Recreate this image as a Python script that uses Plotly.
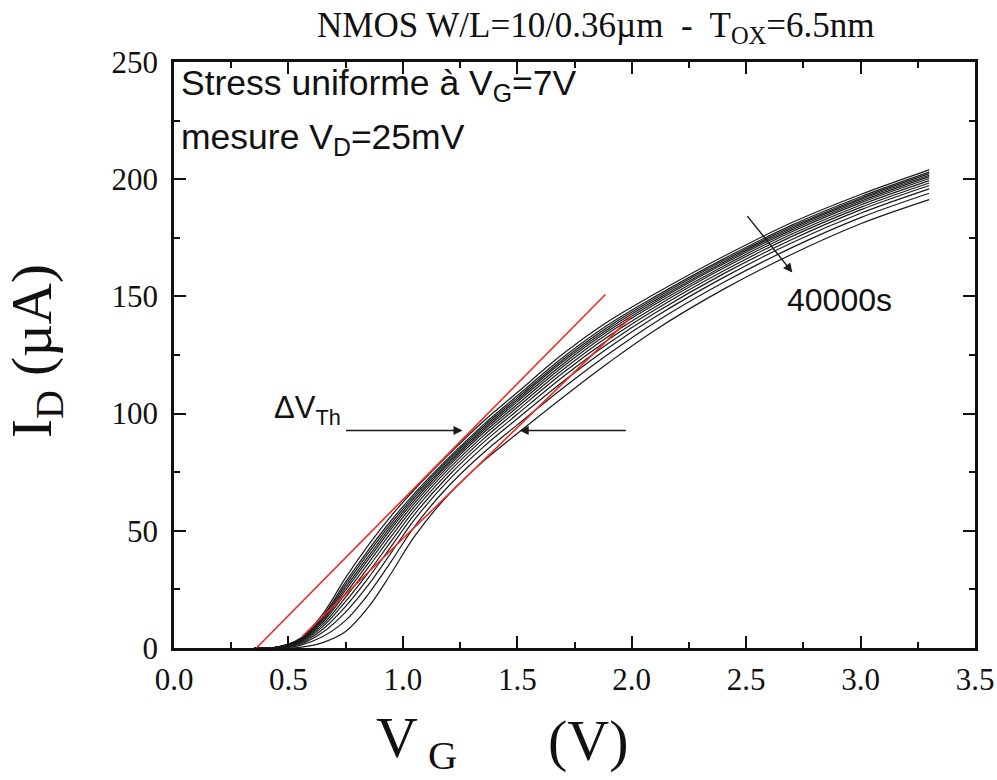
import plotly.graph_objects as go

# ---------------- data ----------------
vg = [0.35, 0.45, 0.55, 0.65, 0.75, 0.85, 0.95, 1.05, 1.2, 1.35, 1.5, 1.7, 1.9, 2.1, 2.4, 2.7, 3.0, 3.3]

id_curves = [
    [0, 0.40, 4.0, 14.5, 30.0, 44.0, 56.5, 67.5, 82.5, 96.5, 109.0, 125.5, 139.5, 151.0, 167.0, 181.5, 193.5, 204.0],
    [0, 0.37, 3.7, 13.5, 28.2, 41.9, 54.5, 65.9, 81.1, 95.1, 107.6, 124.0, 138.1, 149.8, 165.9, 180.4, 192.5, 203.0],
    [0, 0.35, 3.5, 12.9, 27.0, 40.6, 53.3, 64.9, 80.3, 94.3, 106.7, 123.1, 137.2, 149.0, 165.2, 179.7, 191.9, 202.4],
    [0, 0.34, 3.3, 12.3, 25.9, 39.2, 52.1, 63.9, 79.4, 93.4, 105.9, 122.2, 136.3, 148.2, 164.5, 179.1, 191.3, 201.7],
    [0, 0.32, 3.2, 11.7, 24.7, 37.9, 50.9, 62.9, 78.6, 92.6, 105.0, 121.2, 135.4, 147.4, 163.8, 178.4, 190.6, 201.1],
    [0, 0.30, 2.9, 11.0, 23.3, 36.3, 49.4, 61.7, 77.6, 91.6, 103.9, 120.1, 134.4, 146.5, 162.9, 177.6, 189.9, 200.3],
    [0, 0.27, 2.7, 10.1, 21.7, 34.5, 47.7, 60.3, 76.4, 90.4, 102.7, 118.8, 133.1, 145.4, 162.0, 176.6, 189.0, 199.4],
    [0, 0.25, 2.4, 9.1, 19.9, 32.3, 45.7, 58.7, 75.0, 89.0, 101.3, 117.4, 131.7, 144.2, 160.8, 175.6, 188.0, 198.4],
    [0, 0.21, 2.0, 8.0, 17.8, 30.0, 43.5, 56.9, 73.5, 87.5, 99.7, 115.7, 130.1, 142.8, 159.6, 174.3, 186.9, 197.3],
    [0, 0.18, 1.6, 6.7, 15.3, 27.0, 40.8, 54.7, 71.6, 85.6, 97.8, 113.7, 128.2, 141.1, 158.0, 172.9, 185.5, 195.9],
    [0, 0.12, 1.1, 4.9, 11.8, 23.1, 37.1, 51.7, 69.1, 83.1, 95.2, 110.9, 125.5, 138.8, 155.9, 170.8, 183.6, 194.0],
    [0, 0.05, 0.3, 2.3, 7.0, 17.5, 32.0, 47.5, 65.5, 79.5, 91.5, 107.0, 121.8, 135.5, 153.0, 168.0, 181.0, 191.3],
]

# red tangent lines (end points)
tangent_fresh_v = [0.36, 1.885]
tangent_fresh_i = [0.0, 150.8]
tangent_stress_v = [0.56, 2.0]
tangent_stress_i = [4.9, 141.5]

x_ticks = [0.0, 0.5, 1.0, 1.5, 2.0, 2.5, 3.0, 3.5]
x_tick_labels = ["0.0", "0.5", "1.0", "1.5", "2.0", "2.5", "3.0", "3.5"]
y_ticks = [0, 50, 100, 150, 200, 250]
y_tick_labels = ["0", "50", "100", "150", "200", "250"]

# ---------------- figure ----------------
W, H = 997, 780
ML, MR, MT, MB = 174, 22, 62, 132

fig = go.Figure()
for cur in id_curves:
    fig.add_trace(go.Scatter(x=vg, y=cur, mode="lines",
                             line=dict(color="#1a1a1a", width=1.2, shape="spline", smoothing=1.0),
                             showlegend=False, hoverinfo="skip"))

fig.add_trace(go.Scatter(x=tangent_fresh_v, y=tangent_fresh_i, mode="lines",
                         line=dict(color="#ee2a24", width=1.6), showlegend=False))
fig.add_trace(go.Scatter(x=tangent_stress_v, y=tangent_stress_i, mode="lines",
                         line=dict(color="#ee2a24", width=1.6), showlegend=False))

def px(xp):
    return (xp - ML) / (W - ML - MR)

def py(yp):
    return (H - MB - yp) / (H - MT - MB)

serif = "Liberation Serif, Times New Roman, serif"
sans = "Liberation Sans, Arial, sans-serif"

ann = []
# top title
ann.append(dict(xref="paper", yref="paper", x=px(596), y=py(27), xanchor="center", yanchor="middle",
                text="NMOS W/L=10/0.36µm  -  T<sub>OX</sub>=6.5nm", showarrow=False,
                font=dict(family=serif, size=35, color="#111")))
# axis titles
ann.append(dict(xref="paper", yref="paper", x=px(374), y=py(741), xanchor="left", yanchor="middle",
                text="V<sub>&nbsp;G</sub>", showarrow=False,
                font=dict(family=serif, size=58, color="#111")))
ann.append(dict(xref="paper", yref="paper", x=px(631), y=py(740), xanchor="right", yanchor="middle",
                text="(V)", showarrow=False,
                font=dict(family=serif, size=58, color="#111")))
ann.append(dict(xref="paper", yref="paper", x=px(36), y=py(351), xanchor="center", yanchor="middle",
                text="I<sub>D</sub> (µA)", showarrow=False, textangle=-90,
                font=dict(family=serif, size=57, color="#111")))
# in-plot text
ann.append(dict(xref="paper", yref="paper", x=px(179), y=py(85), xanchor="left", yanchor="middle",
                text="Stress uniforme à V<sub>G</sub>=7V", showarrow=False,
                font=dict(family=sans, size=35.5, color="#111")))
ann.append(dict(xref="paper", yref="paper", x=px(179), y=py(139), xanchor="left", yanchor="middle",
                text="mesure V<sub>D</sub>=25mV", showarrow=False,
                font=dict(family=sans, size=35.5, color="#111")))
ann.append(dict(xref="paper", yref="paper", x=px(272), y=py(410), xanchor="left", yanchor="middle",
                text="ΔV<sub>Th</sub>", showarrow=False,
                font=dict(family=sans, size=31, color="#111")))
ann.append(dict(xref="paper", yref="paper", x=px(839), y=py(300), xanchor="center", yanchor="middle",
                text="40000s", showarrow=False,
                font=dict(family=sans, size=32, color="#111")))
# arrows (data coordinates)
arrow_style = dict(showarrow=True, arrowhead=2, arrowsize=1.3, arrowwidth=1.4, arrowcolor="#1a1a1a",
                   xref="x", yref="y", axref="x", ayref="y", text="")
ann.append(dict(x=1.261, y=92.8, ax=0.745, ay=92.8, **arrow_style))
ann.append(dict(x=1.51, y=92.8, ax=1.981, ay=92.8, **arrow_style))
ann.append(dict(x=2.702, y=160.2, ax=2.5, ay=184.9, **arrow_style))

axis_common = dict(showline=True, linecolor="#111", linewidth=2.5, mirror="ticks",
                   ticks="inside", ticklen=12, tickwidth=2, tickcolor="#111",
                   showgrid=False, zeroline=False,
                   tickfont=dict(family=serif, size=31, color="#111"))

fig.update_layout(
    width=W, height=H,
    margin=dict(l=ML, r=MR, t=MT, b=MB, autoexpand=False),
    paper_bgcolor="white", plot_bgcolor="white",
    annotations=ann,
    xaxis=dict(range=[0, 3.5], tickvals=x_ticks, ticktext=x_tick_labels,
               ticklabelstandoff=2,
               minor=dict(ticks="inside", ticklen=6, tickwidth=2, tickcolor="#111", dtick=0.25, tick0=0),
               **axis_common),
    yaxis=dict(range=[0, 250], tickvals=y_ticks, ticktext=y_tick_labels,
               ticklabelstandoff=7,
               minor=dict(ticks="inside", ticklen=6, tickwidth=2, tickcolor="#111", dtick=25, tick0=0),
               **axis_common),
)

fig.write_html("out.html", config={"displayModeBar": False},
               post_script="document.body.style.margin='0px';document.body.style.overflow='hidden';")
